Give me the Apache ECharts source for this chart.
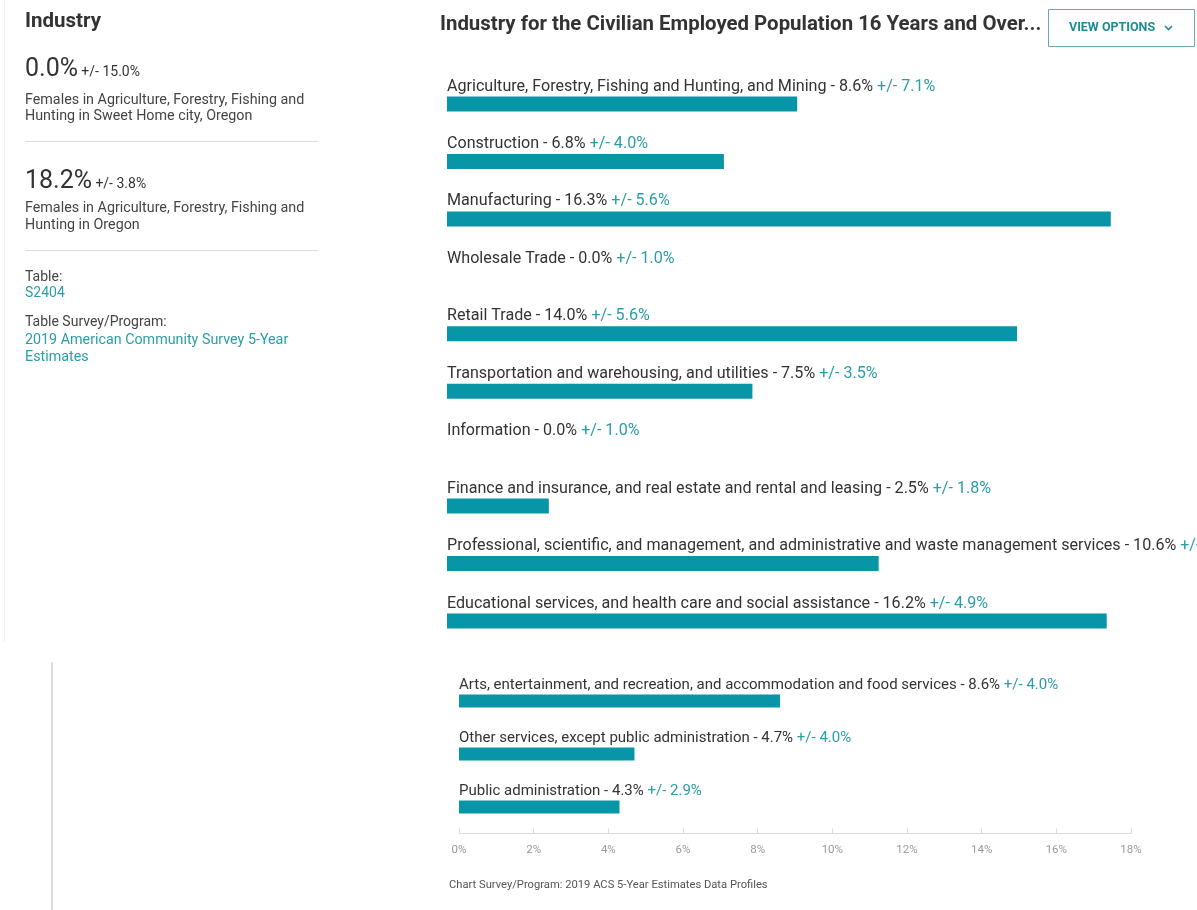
<!DOCTYPE html>
<html>
<head>
<meta charset="utf-8">
<script src="https://cdn.jsdelivr.net/npm/echarts@6/dist/echarts.min.js"></script>
<style>
html,body{margin:0;padding:0;background:#fff;}
#chart{width:1197px;height:910px;}
</style>
</head>
<body>
<div id="chart"></div>
<script>
// ---- data ----
const topCategories = [
  "Agriculture, Forestry, Fishing and Hunting, and Mining",
  "Construction",
  "Manufacturing",
  "Wholesale Trade",
  "Retail Trade",
  "Transportation and warehousing, and utilities",
  "Information",
  "Finance and insurance, and real estate and rental and leasing",
  "Professional, scientific, and management, and administrative and waste management services",
  "Educational services, and health care and social assistance"
];
const topValues = [8.6, 6.8, 16.3, 0.0, 14.0, 7.5, 0.0, 2.5, 10.6, 16.2];
const topMoe    = [7.1, 4.0, 5.6, 1.0, 5.6, 3.5, 1.0, 1.8, 4.1, 4.9];

const bottomCategories = [
  "Arts, entertainment, and recreation, and accommodation and food services",
  "Other services, except public administration",
  "Public administration"
];
const bottomValues = [8.6, 4.7, 4.3];
const bottomMoe    = [4.0, 4.0, 2.9];

const axisTicks = [0, 2, 4, 6, 8, 10, 12, 14, 16, 18];

const chartTitle = "Industry for the Civilian Employed Population 16 Years and Over...";
const footerText = "Chart Survey/Program: 2019 ACS 5-Year Estimates Data Profiles";

// ---- styles ----
const FONT = "Roboto, 'Noto Sans', sans-serif";
const BAR = "#0895a8";
const TEAL = "#2a9ea8";
const DARK = "#333333";

function makeLabel(cats, moes, size) {
  return {
    show: true,
    position: [0, -2],
    verticalAlign: 'bottom',
    align: 'left',
    formatter: p => `{n|${cats[p.dataIndex]} - ${p.value.toFixed(1)}% }{m|+/- ${moes[p.dataIndex].toFixed(1)}%}`,
    rich: {
      n: { color: DARK, fontSize: size, fontFamily: FONT },
      m: { color: TEAL, fontSize: size, fontFamily: FONT }
    }
  };
}

const chart = echarts.init(document.getElementById('chart'), null, { renderer: 'canvas' });

const option = {
  animation: false,
  backgroundColor: '#ffffff',
  grid: [
    { left: 447, top: 75.3, width: 733, height: 574.4 },
    { left: 459, top: 674.5, width: 672, height: 159 }
  ],
  xAxis: [
    { gridIndex: 0, type: 'value', min: 0, max: 18, interval: 2, show: false },
    {
      gridIndex: 1, type: 'value', min: 0, max: 18, interval: 2,
      axisLine: { show: true, lineStyle: { color: '#dcdcdc', width: 1 } },
      axisTick: { show: true, inside: true, length: 5, lineStyle: { color: '#dcdcdc' } },
      splitLine: { show: false },
      axisLabel: {
        color: '#9a9a9a', fontSize: 11.5, fontFamily: FONT, margin: 11,
        formatter: v => axisTicks.includes(v) ? v + '%' : ''
      }
    }
  ],
  yAxis: [
    { gridIndex: 0, type: 'category', data: topCategories, inverse: true, show: false },
    { gridIndex: 1, type: 'category', data: bottomCategories, inverse: true, show: false }
  ],
  series: [
    {
      type: 'bar', xAxisIndex: 0, yAxisIndex: 0, data: topValues,
      barWidth: 15, itemStyle: { color: BAR },
      label: makeLabel(topCategories, topMoe, 16.1)
    },
    {
      type: 'bar', xAxisIndex: 1, yAxisIndex: 1, data: bottomValues,
      barWidth: 13, itemStyle: { color: BAR },
      label: makeLabel(bottomCategories, bottomMoe, 15)
    }
  ],
  graphic: [
    // panel edges
    { type: 'line', shape: { x1: 4.5, y1: 0, x2: 4.5, y2: 642 }, style: { stroke: '#efefef', lineWidth: 1 } },
    { type: 'line', shape: { x1: 52, y1: 662, x2: 52, y2: 910 }, style: { stroke: '#dddddd', lineWidth: 2 } },
    // left panel
    { type: 'text', x: 25, y: 22, style: { text: 'Industry', fill: DARK, font: `bold 20.5px ${FONT}`, verticalAlign: 'middle' } },
    { type: 'text', x: 25, y: 70, style: {
        text: '{a|0.0%} {b|+/- 15.0%}', verticalAlign: 'middle',
        rich: { a: { fill: DARK, fontSize: 25, fontFamily: FONT }, b: { fill: DARK, fontSize: 14, fontFamily: FONT, padding: [5, 0, 0, 0] } }
    } },
    { type: 'text', x: 25, y: 100, style: { text: 'Females in Agriculture, Forestry, Fishing and', fill: '#444', font: `14.3px ${FONT}`, verticalAlign: 'middle' } },
    { type: 'text', x: 25, y: 116.5, style: { text: 'Hunting in Sweet Home city, Oregon', fill: '#444', font: `14.3px ${FONT}`, verticalAlign: 'middle' } },
    { type: 'line', shape: { x1: 25, y1: 141.5, x2: 318, y2: 141.5 }, style: { stroke: '#dddddd', lineWidth: 1 } },
    { type: 'text', x: 25, y: 182, style: {
        text: '{a|18.2%} {b|+/- 3.8%}', verticalAlign: 'middle',
        rich: { a: { fill: DARK, fontSize: 25, fontFamily: FONT }, b: { fill: DARK, fontSize: 14, fontFamily: FONT, padding: [5, 0, 0, 0] } }
    } },
    { type: 'text', x: 25, y: 208.5, style: { text: 'Females in Agriculture, Forestry, Fishing and', fill: '#444', font: `14.3px ${FONT}`, verticalAlign: 'middle' } },
    { type: 'text', x: 25, y: 225.5, style: { text: 'Hunting in Oregon', fill: '#444', font: `14.3px ${FONT}`, verticalAlign: 'middle' } },
    { type: 'line', shape: { x1: 25, y1: 250.5, x2: 318, y2: 250.5 }, style: { stroke: '#dddddd', lineWidth: 1 } },
    { type: 'text', x: 25, y: 277, style: { text: 'Table:', fill: '#444', font: `14px ${FONT}`, verticalAlign: 'middle' } },
    { type: 'text', x: 25, y: 293.5, style: { text: 'S2404', fill: TEAL, font: `14px ${FONT}`, verticalAlign: 'middle' } },
    { type: 'text', x: 25, y: 322.5, style: { text: 'Table Survey/Program:', fill: '#444', font: `14px ${FONT}`, verticalAlign: 'middle' } },
    { type: 'text', x: 25, y: 340, style: { text: '2019 American Community Survey 5-Year', fill: TEAL, font: `14.3px ${FONT}`, verticalAlign: 'middle' } },
    { type: 'text', x: 25, y: 357, style: { text: 'Estimates', fill: TEAL, font: `14.3px ${FONT}`, verticalAlign: 'middle' } },
    // chart title
    { type: 'text', x: 440, y: 25, style: { text: chartTitle, fill: DARK, font: `bold 20.4px ${FONT}`, verticalAlign: 'middle' } },
    // button
    { type: 'rect', shape: { x: 1048.5, y: 9.5, width: 146, height: 37 }, style: { fill: '#fff', stroke: '#6aa9b0', lineWidth: 1 } },
    { type: 'text', x: 1069, y: 28, style: { text: 'VIEW OPTIONS', fill: '#1e8c96', font: `bold 12.5px ${FONT}`, verticalAlign: 'middle' } },
    { type: 'polyline', shape: { points: [[1165, 26], [1168.5, 29.5], [1172, 26]] }, style: { stroke: '#1e8c96', lineWidth: 1.6, fill: null } },
    // footer
    { type: 'text', x: 449, y: 885, style: { text: footerText, fill: '#555', font: `11.2px ${FONT}`, verticalAlign: 'middle' } }
  ]
};
chart.setOption(option);
</script>
</body>
</html>
